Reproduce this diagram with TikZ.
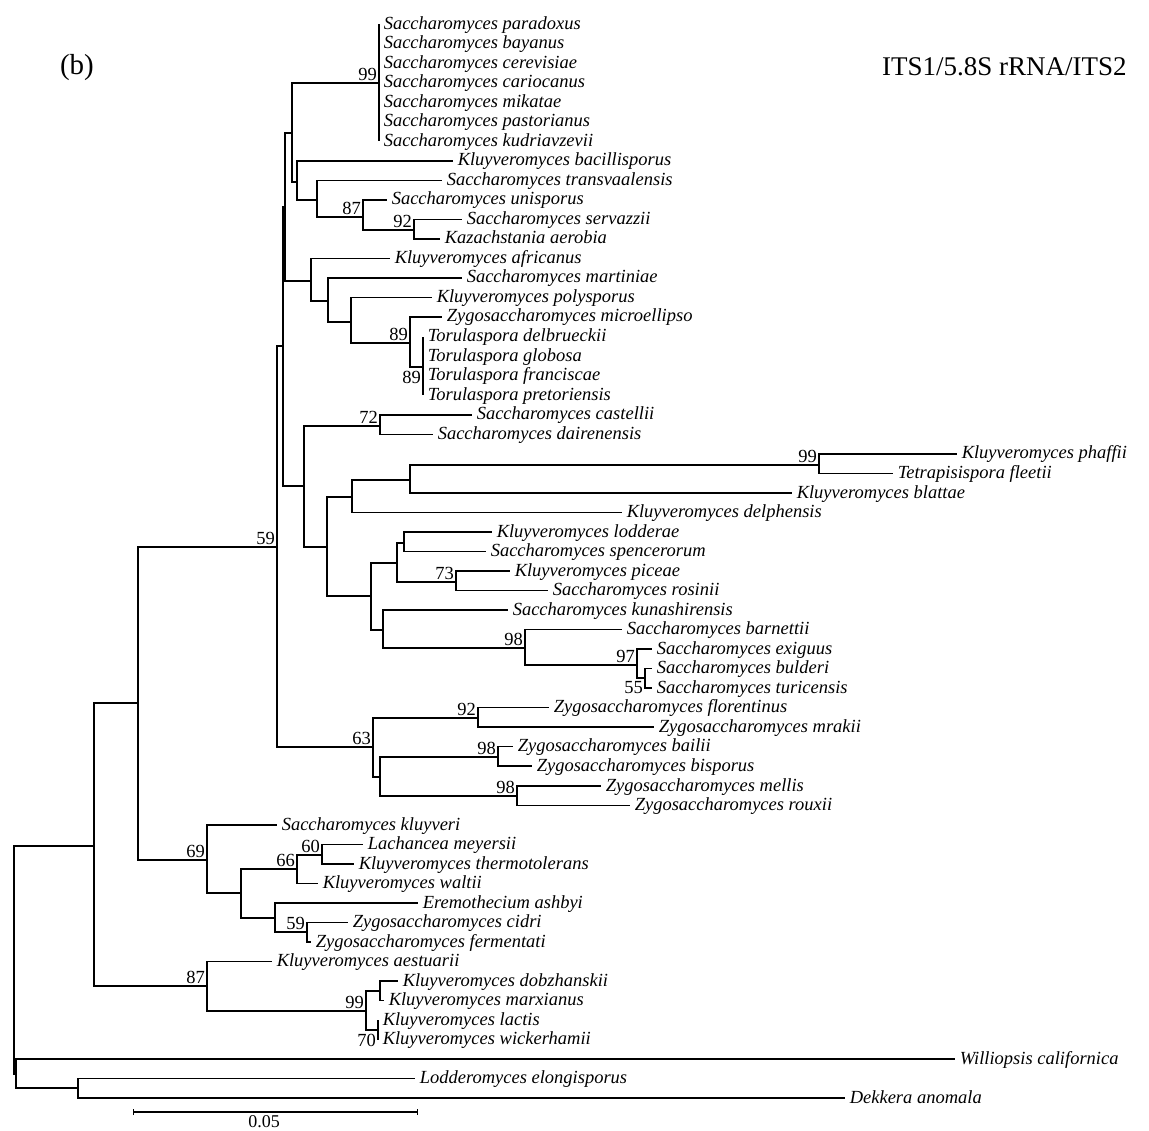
\documentclass[tikz,border=0pt]{standalone}
\usepackage{fontspec}
\setmainfont{Liberation Serif}
\usepackage{tikz}
\usetikzlibrary{calc}
\usetikzlibrary{arrows.meta}

\begin{document}
\begin{tikzpicture}[
			x=1pt, y=-1pt,
			line width=1.5pt,
			leaf/.style={
					anchor=west,
					inner xsep=4pt,
					inner ysep=0pt,
					font=\fontsize{18.5}{20}\selectfont\itshape,
					text height=12pt, % Height above the baseline
					text depth=2pt    % Depth below the baseline
				},
			bs/.style={
					anchor=south east,
					inner sep=1.5pt,
					font=\fontsize{18.5}{20}\selectfont
				},
			bsb/.style={bs, anchor=north east, inner ysep=3pt}
		]
		\useasboundingbox (0,0) rectangle (1149,1131);

		\node[anchor=west, font=\fontsize{29}{32}\selectfont] (panel) at (56, 68) {(b)};
		\node[anchor=west, font=\fontsize{27}{30}\selectfont] (region) at (878, 67) {ITS1/5.8S rRNA/ITS2};

		% leaves
		\node[leaf] (paradoxus) at (379, 24.5) {Saccharomyces paradoxus};
		\node[leaf] (bayanus) at (379, 44) {Saccharomyces bayanus};
		\node[leaf] (cerevisiae) at (379, 63.5) {Saccharomyces cerevisiae};
		\node[leaf] (cariocanus) at (379, 83) {Saccharomyces cariocanus};
		\node[leaf] (mikatae) at (379, 102.5) {Saccharomyces mikatae};
		\node[leaf] (pastorianus) at (379, 122) {Saccharomyces pastorianus};
		\node[leaf] (kudriavzevii) at (379, 141.5) {Saccharomyces kudriavzevii};
		\node[leaf] (bacillisporus) at (453, 161) {Kluyveromyces bacillisporus};
		\node[leaf] (transvaalensis) at (442, 180.5) {Saccharomyces transvaalensis};
		\node[leaf] (unisporus) at (387, 200) {Saccharomyces unisporus};
		\node[leaf] (servazzii) at (462, 219.5) {Saccharomyces servazzii};
		\node[leaf] (aerobia) at (440, 239) {Kazachstania aerobia};
		\node[leaf] (africanus) at (390, 258.5) {Kluyveromyces africanus};
		\node[leaf] (martiniae) at (462, 278) {Saccharomyces martiniae};
		\node[leaf] (polysporus) at (432, 297.5) {Kluyveromyces polysporus};
		\node[leaf] (microellipso) at (442, 317) {Zygosaccharomyces microellipso};
		\node[leaf] (delbrueckii) at (423, 337) {Torulaspora delbrueckii};
		\node[leaf] (globosa) at (423, 356.5) {Torulaspora globosa};
		\node[leaf] (franciscae) at (423, 376) {Torulaspora franciscae};
		\node[leaf] (pretoriensis) at (423, 395.5) {Torulaspora pretoriensis};
		\node[leaf] (castellii) at (472, 415) {Saccharomyces castellii};
		\node[leaf] (dairenensis) at (433, 434.5) {Saccharomyces dairenensis};
		\node[leaf] (phaffii) at (957, 454) {Kluyveromyces phaffii};
		\node[leaf] (fleetii) at (893, 473.5) {Tetrapisispora fleetii};
		\node[leaf] (blattae) at (792, 493) {Kluyveromyces blattae};
		\node[leaf] (delphensis) at (622, 512.5) {Kluyveromyces delphensis};
		\node[leaf] (lodderae) at (492, 532) {Kluyveromyces lodderae};
		\node[leaf] (spencerorum) at (486, 551.5) {Saccharomyces spencerorum};
		\node[leaf] (piceae) at (510, 571) {Kluyveromyces piceae};
		\node[leaf] (rosinii) at (548, 590.5) {Saccharomyces rosinii};
		\node[leaf] (kunashirensis) at (508, 610) {Saccharomyces kunashirensis};
		\node[leaf] (barnettii) at (622, 629.5) {Saccharomyces barnettii};
		\node[leaf] (exiguus) at (652, 649) {Saccharomyces exiguus};
		\node[leaf] (bulderi) at (652, 668.5) {Saccharomyces bulderi};
		\node[leaf] (turicensis) at (652, 688) {Saccharomyces turicensis};
		\node[leaf] (florentinus) at (549, 707.5) {Zygosaccharomyces florentinus};
		\node[leaf] (mrakii) at (654, 727) {Zygosaccharomyces mrakii};
		\node[leaf] (bailii) at (513, 746.5) {Zygosaccharomyces bailii};
		\node[leaf] (bisporus) at (532, 766) {Zygosaccharomyces bisporus};
		\node[leaf] (mellis) at (601, 786) {Zygosaccharomyces mellis};
		\node[leaf] (rouxii) at (630, 805.5) {Zygosaccharomyces rouxii};
		\node[leaf] (kluyveri) at (277, 825) {Saccharomyces kluyveri};
		\node[leaf] (meyersii) at (363, 844.5) {Lachancea meyersii};
		\node[leaf] (thermotolerans) at (354, 864) {Kluyveromyces thermotolerans};
		\node[leaf] (waltii) at (318, 883.5) {Kluyveromyces waltii};
		\node[leaf] (ashbyi) at (418, 903) {Eremothecium ashbyi};
		\node[leaf] (cidri) at (348, 922.5) {Zygosaccharomyces cidri};
		\node[leaf] (fermentati) at (311, 942) {Zygosaccharomyces fermentati};
		\node[leaf] (aestuarii) at (272, 961.5) {Kluyveromyces aestuarii};
		\node[leaf] (dobzhanskii) at (398, 981) {Kluyveromyces dobzhanskii};
		\node[leaf] (marxianus) at (384, 1000.5) {Kluyveromyces marxianus};
		\node[leaf] (lactis) at (378, 1020) {Kluyveromyces lactis};
		\node[leaf] (wickerhamii) at (378, 1039.5) {Kluyveromyces wickerhamii};
		\node[leaf] (californica) at (955, 1059) {Williopsis californica};
		\node[leaf] (elongisporus) at (415, 1078.5) {Lodderomyces elongisporus};
		\node[leaf] (anomala) at (845, 1098) {Dekkera anomala};

		% internal nodes
		\coordinate (root) at (14, 960);
		\coordinate (nout) at (16, 1074);
		\coordinate (nlod) at (78, 1088);
		\coordinate (nin) at (94, 846);
		\coordinate (na) at (138, 703);
		\coordinate (n59) at (277, 547);
		\coordinate (nb) at (283, 346);
		\coordinate (nc) at (285, 207);
		\coordinate (nd) at (292, 133);
		\coordinate (n99a) at (379, 83);
		\coordinate (ne) at (297, 182);
		\coordinate (nf) at (317, 200);
		\coordinate (n87a) at (363, 217);
		\coordinate (n92a) at (414, 230);
		\coordinate (ng) at (311, 281);
		\coordinate (nh) at (328, 301);
		\coordinate (ni) at (351, 322);
		\coordinate (n89a) at (410, 343);
		\coordinate (n89b) at (423, 367);
		\coordinate (nj) at (304, 486);
		\coordinate (n72) at (380, 426);
		\coordinate (nk) at (327, 547);
		\coordinate (nl) at (352, 497);
		\coordinate (nm) at (410, 480);
		\coordinate (n99b) at (819, 465);
		\coordinate (nn) at (371, 596);
		\coordinate (no) at (397, 563);
		\coordinate (np) at (404, 543);
		\coordinate (n73) at (456, 582);
		\coordinate (nq) at (383, 630);
		\coordinate (n98a) at (525, 648);
		\coordinate (n97) at (637, 665);
		\coordinate (n55) at (645, 678);
		\coordinate (n63) at (373, 747);
		\coordinate (n92b) at (478, 718);
		\coordinate (nr) at (380, 777);
		\coordinate (n98b) at (498, 757);
		\coordinate (n98c) at (517, 796);
		\coordinate (n69) at (207, 860);
		\coordinate (ns) at (241, 893);
		\coordinate (n66) at (297, 869);
		\coordinate (n60) at (322, 855);
		\coordinate (nt) at (275, 918);
		\coordinate (n59b) at (307, 932);
		\coordinate (n87b) at (207, 986);
		\coordinate (n99c) at (366, 1011);
		\coordinate (nu) at (380, 991);
		\coordinate (n70) at (378, 1030);

		% branches
		\draw (root) |- (nin);
		\draw (root) |- (nout);
		\draw (nout) |- (californica.west);
		\draw (nout) |- (nlod);
		\draw (nlod) |- (elongisporus.west);
		\draw (nlod) |- (anomala.west);
		\draw (nin) |- (na);
		\draw (nin) |- (n87b);
		\draw (na) |- (n59);
		\draw (na) |- (n69);
		\draw (n59) |- (nb);
		\draw (n59) |- (n63);
		\draw (nb) |- (nc);
		\draw (nb) |- (nj);
		\draw (nc) |- (nd);
		\draw (nc) |- (ng);
		\draw (nd) |- (n99a);
		\draw (nd) |- (ne);
		\draw (n99a) |- (paradoxus.west);
		\draw (n99a) |- (bayanus.west);
		\draw (n99a) |- (cerevisiae.west);
		\draw (n99a) |- (cariocanus.west);
		\draw (n99a) |- (mikatae.west);
		\draw (n99a) |- (pastorianus.west);
		\draw (n99a) |- (kudriavzevii.west);
		\draw (ne) |- (bacillisporus.west);
		\draw (ne) |- (nf);
		\draw (nf) |- (transvaalensis.west);
		\draw (nf) |- (n87a);
		\draw (n87a) |- (unisporus.west);
		\draw (n87a) |- (n92a);
		\draw (n92a) |- (servazzii.west);
		\draw (n92a) |- (aerobia.west);
		\draw (ng) |- (africanus.west);
		\draw (ng) |- (nh);
		\draw (nh) |- (martiniae.west);
		\draw (nh) |- (ni);
		\draw (ni) |- (polysporus.west);
		\draw (ni) |- (n89a);
		\draw (n89a) |- (microellipso.west);
		\draw (n89a) |- (n89b);
		\draw (n89b) |- (delbrueckii.west);
		\draw (n89b) |- (globosa.west);
		\draw (n89b) |- (franciscae.west);
		\draw (n89b) |- (pretoriensis.west);
		\draw (nj) |- (n72);
		\draw (nj) |- (nk);
		\draw (n72) |- (castellii.west);
		\draw (n72) |- (dairenensis.west);
		\draw (nk) |- (nl);
		\draw (nk) |- (nn);
		\draw (nl) |- (nm);
		\draw (nl) |- (delphensis.west);
		\draw (nm) |- (n99b);
		\draw (nm) |- (blattae.west);
		\draw (n99b) |- (phaffii.west);
		\draw (n99b) |- (fleetii.west);
		\draw (nn) |- (no);
		\draw (nn) |- (nq);
		\draw (no) |- (np);
		\draw (no) |- (n73);
		\draw (np) |- (lodderae.west);
		\draw (np) |- (spencerorum.west);
		\draw (n73) |- (piceae.west);
		\draw (n73) |- (rosinii.west);
		\draw (nq) |- (kunashirensis.west);
		\draw (nq) |- (n98a);
		\draw (n98a) |- (barnettii.west);
		\draw (n98a) |- (n97);
		\draw (n97) |- (exiguus.west);
		\draw (n97) |- (n55);
		\draw (n55) |- (bulderi.west);
		\draw (n55) |- (turicensis.west);
		\draw (n63) |- (n92b);
		\draw (n63) |- (nr);
		\draw (n92b) |- (florentinus.west);
		\draw (n92b) |- (mrakii.west);
		\draw (nr) |- (n98b);
		\draw (nr) |- (n98c);
		\draw (n98b) |- (bailii.west);
		\draw (n98b) |- (bisporus.west);
		\draw (n98c) |- (mellis.west);
		\draw (n98c) |- (rouxii.west);
		\draw (n69) |- (kluyveri.west);
		\draw (n69) |- (ns);
		\draw (ns) |- (n66);
		\draw (ns) |- (nt);
		\draw (n66) |- (n60);
		\draw (n66) |- (waltii.west);
		\draw (n60) |- (meyersii.west);
		\draw (n60) |- (thermotolerans.west);
		\draw (nt) |- (ashbyi.west);
		\draw (nt) |- (n59b);
		\draw (n59b) |- (cidri.west);
		\draw (n59b) |- (fermentati.west);
		\draw (n87b) |- (aestuarii.west);
		\draw (n87b) |- (n99c);
		\draw (n99c) |- (nu);
		\draw (n99c) |- (n70);
		\draw (nu) |- (dobzhanskii.west);
		\draw (nu) |- (marxianus.west);
		\draw (n70) |- (lactis.west);
		\draw (n70) |- (wickerhamii.west);

		% bootstrap values
		\node[bs] (b99a) at (n99a) {99};
		\node[bs] (b87a) at (n87a) {87};
		\node[bs] (b92a) at (n92a) {92};
		\node[bs] (b89a) at (n89a) {89};
		\node[bsb] (b89b) at (n89b) {89};
		\node[bs] (b72) at (n72) {72};
		\node[bs] (b59) at (n59) {59};
		\node[bs] (b99b) at (n99b) {99};
		\node[bs] (b73) at (n73) {73};
		\node[bs] (b98a) at (n98a) {98};
		\node[bs] (b97) at (n97) {97};
		\node[bsb] (b55) at (n55) {55};
		\node[bs] (b63) at (n63) {63};
		\node[bs] (b92b) at (n92b) {92};
		\node[bs] (b98b) at (n98b) {98};
		\node[bs] (b98c) at (n98c) {98};
		\node[bs] (b69) at (n69) {69};
		\node[bs] (b66) at (n66) {66};
		\node[bs] (b60) at (n60) {60};
		\node[bs] (b59b) at (n59b) {59};
		\node[bs] (b87b) at (n87b) {87};
		\node[bs] (b99c) at (n99c) {99};
		\node[bsb] (b70) at (n70) {70};

		% scale bar
		\coordinate (sbl) at (133, 1112);
		\coordinate (sbr) at (418, 1112);
		\draw[line width=1.2pt, {Bar[width=6pt]}-{Bar[width=6pt]}] (sbl) -- (sbr);
		\node[anchor=north, inner sep=1pt, font=\fontsize{18}{20}\selectfont] (sblabel) at (264, 1114) {0.05};

	\end{tikzpicture}
\end{document}
